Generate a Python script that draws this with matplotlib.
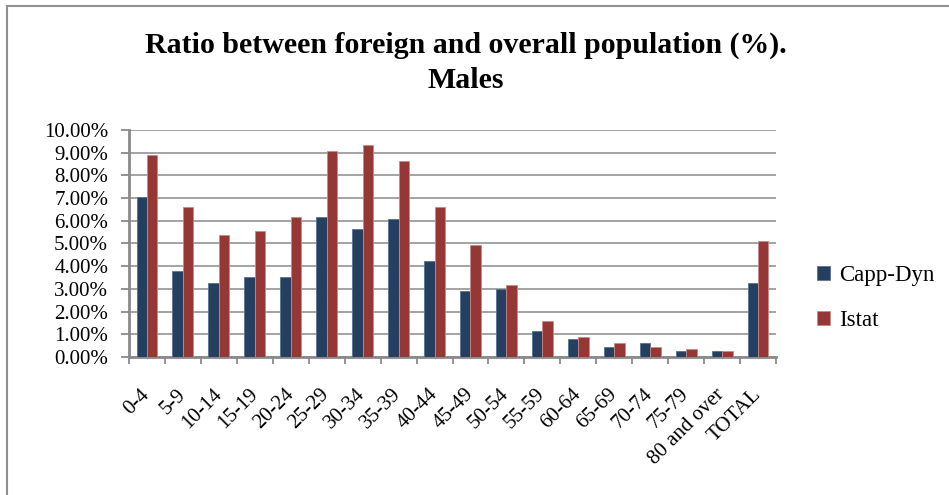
import matplotlib
matplotlib.use("Agg")
import matplotlib.pyplot as plt
from matplotlib.ticker import PercentFormatter, FixedLocator
from matplotlib.lines import Line2D
import numpy as np

age_groups = ["0-4", "5-9", "10-14", "15-19", "20-24", "25-29", "30-34", "35-39",
              "40-44", "45-49", "50-54", "55-59", "60-64", "65-69", "70-74", "75-79",
              "80 and over", "TOTAL"]
# percent values
capp_dyn = [7.04, 3.77, 3.26, 3.52, 3.52, 6.16, 5.63, 6.07, 4.22, 2.90,
            2.99, 1.14, 0.79, 0.44, 0.62, 0.26, 0.26, 3.26]
istat = [8.90, 6.60, 5.37, 5.54, 6.16, 9.06, 9.33, 8.62, 6.60, 4.93,
         3.17, 1.58, 0.88, 0.62, 0.44, 0.35, 0.26, 5.10]

blue = "#243f60"
red = "#953735"
grid_col = "#8a8a8a"
serif = ["Liberation Serif", "DejaVu Serif"]
plt.rcParams["font.family"] = serif

fig = plt.figure(figsize=(9.49, 4.95), dpi=100)
ax = fig.add_axes([129 / 949, 1 - 357 / 495, 647 / 949, 227 / 495])

x = np.arange(len(age_groups))
w = 0.29
ax.bar(x - w / 2, capp_dyn, w, color=blue, edgecolor="#5a7194", linewidth=0.6,
       label="Capp-Dyn", zorder=3)
ax.bar(x + w / 2, istat, w, color=red, edgecolor="#c98a88", linewidth=0.6,
       label="Istat", zorder=3)

ax.set_xlim(-0.5, len(age_groups) - 0.5)
ax.set_ylim(0, 10)
ax.yaxis.set_major_locator(FixedLocator(np.arange(0, 10.01, 1)))
ax.yaxis.set_major_formatter(PercentFormatter(xmax=100, decimals=2))
ax.grid(axis="y", color=grid_col, linewidth=1.1, zorder=0)

ax.set_xticks(x)
ax.set_xticklabels(age_groups, rotation=45, ha="right", va="center",
                   rotation_mode="anchor", fontsize=15)
ax.tick_params(axis="x", which="major", length=0, pad=25)
ax.set_xticks(np.arange(-0.5, len(age_groups), 1), minor=True)
ax.tick_params(axis="x", which="minor", length=5, width=1.3, color=grid_col,
               direction="out")
ax.tick_params(axis="y", length=6, width=1.3, color=grid_col, labelsize=15, pad=9)

for side in ["top", "right"]:
    ax.spines[side].set_visible(False)
for side in ["left", "bottom"]:
    ax.spines[side].set_color(grid_col)
    ax.spines[side].set_linewidth(2)

fig.text(466 / 949, 1 - 45 / 495, "Ratio between foreign and overall population (%).",
         ha="center", va="center", fontsize=21.5, fontweight="bold")
fig.text(466 / 949, 1 - 80 / 495, "Males", ha="center", va="center",
         fontsize=21.5, fontweight="bold")

ax.legend(loc="center left", bbox_to_anchor=(796 / 949, 1 - 298 / 495),
          bbox_transform=fig.transFigure, frameon=False, fontsize=16.5,
          handlelength=0.6, handleheight=0.6, handletextpad=0.4, labelspacing=1.05)

# outer frame (left and top edges visible in the reference)
fig.add_artist(Line2D([7 / 949, 7 / 949], [0, 1 - 6 / 495], color="#909090",
                      linewidth=1.5, transform=fig.transFigure))
fig.add_artist(Line2D([7 / 949, 1], [1 - 6 / 495, 1 - 6 / 495], color="#909090",
                      linewidth=1.5, transform=fig.transFigure))

fig.savefig("out.png", dpi=100)
